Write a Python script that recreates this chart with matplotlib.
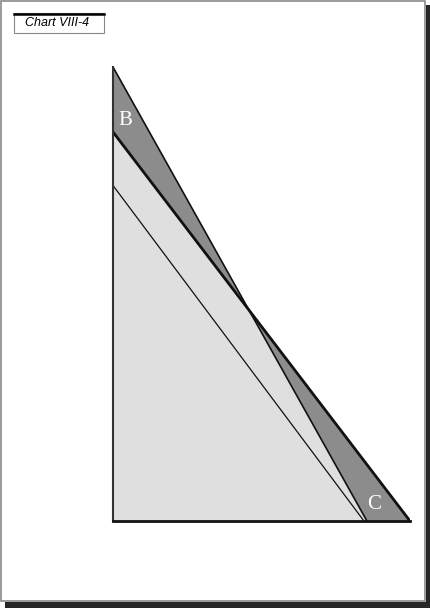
import matplotlib
matplotlib.use("Agg")
import matplotlib.pyplot as plt
from matplotlib.patches import Rectangle
import numpy as np

# curve end points (x intercept, y intercept) in chart units
steep_x = [0.0, 8.55]
steep_y = [15.29, 0.0]
thick_x = [0.0, 10.0]
thick_y = [13.1, 0.0]
thin_x = [0.0, 8.45]
thin_y = [11.3, 0.0]
region_labels = ["B", "C"]
label_x = [0.42, 8.8]
label_y = [13.5, 0.55]

W, H = 431, 608
fig = plt.figure(figsize=(W / 100, H / 100), dpi=100)
fig.patch.set_facecolor("white")


def fx(px):
    return px / W


def fy(py):
    return 1 - py / H


# page frame with shadow
fig.add_artist(Rectangle((fx(426), fy(608)), fx(5), 603 / H, transform=fig.transFigure,
                         facecolor="#262626", edgecolor="none"))
fig.add_artist(Rectangle((fx(5), fy(608)), fx(426), 6 / H, transform=fig.transFigure,
                         facecolor="#262626", edgecolor="none"))
fig.add_artist(Rectangle((fx(1), fy(601)), fx(424), 600 / H, transform=fig.transFigure,
                         facecolor="none", edgecolor="#8a8a8a", linewidth=1.2))

# title box
fig.add_artist(Rectangle((fx(14), fy(33)), fx(90), 20 / H, transform=fig.transFigure,
                         facecolor="white", edgecolor="#888888", linewidth=0.8))
fig.add_artist(plt.Line2D([fx(14), fx(104)], [fy(13.5), fy(13.5)], transform=fig.transFigure,
                          color="black", linewidth=1.8))
fig.text(fx(25), fy(23.5), "Chart VIII-4", fontsize=9, style="italic",
         family="Liberation Sans", va="center", ha="left")

ax = fig.add_axes([fx(113), fy(521), fx(297), 454 / H])
ax.set_xlim(0, 10)
ax.set_ylim(0, 15.29)

xs = np.linspace(0, 10, 2001)
ys1 = np.interp(xs, steep_x, steep_y)
ys2 = np.interp(xs, thick_x, thick_y)
low = np.minimum(ys1, ys2)
high = np.maximum(ys1, ys2)
ax.fill_between(xs, 0, low, color="#dfdfdf", linewidth=0)
ax.fill_between(xs, low, high, color="#8c8c8c", linewidth=0)

ax.plot(steep_x, steep_y, color="#111111", linewidth=1.2, solid_capstyle="butt")
ax.plot(thick_x, thick_y, color="#111111", linewidth=2.0, solid_capstyle="butt")
ax.plot(thin_x, thin_y, color="#111111", linewidth=0.9, solid_capstyle="butt")

for lab, lx, ly in zip(region_labels, label_x, label_y):
    ax.text(lx, ly, lab, color="white", fontsize=15, family="Liberation Serif",
            ha="center", va="center")

for side in ["top", "right"]:
    ax.spines[side].set_visible(False)
ax.spines["left"].set_linewidth(1.5)
ax.spines["left"].set_color("#333333")
ax.spines["bottom"].set_linewidth(2.0)
ax.spines["bottom"].set_color("#111111")
ax.set_xticks([])
ax.set_yticks([])
ax.patch.set_alpha(0)

fig.savefig("out.png", dpi=100)
